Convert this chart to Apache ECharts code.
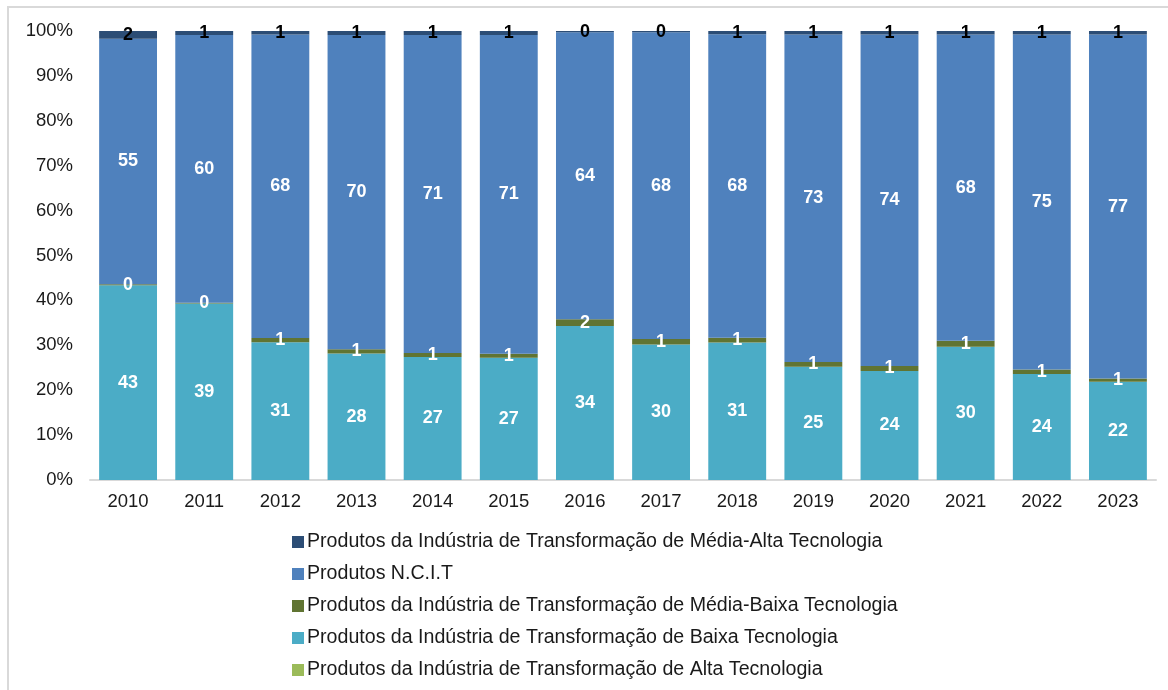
<!DOCTYPE html>
<html lang="pt">
<head>
    <meta charset="UTF-8">
    <script src="https://cdn.jsdelivr.net/npm/echarts@6/dist/echarts.min.js"></script>
    <title>Exportações por intensidade tecnológica</title>
    <style>
        html, body { margin: 0; padding: 0; background: #fff; }
        #frame {
            position: absolute;
            left: 7px;
            top: 6px;
            width: 1170px;
            height: 700px;
            border: 2px solid #d9d9d9;
            box-sizing: border-box;
        }
        #myEchart {
            position: absolute;
            left: 0;
            top: 0;
            width: 1168px;
            height: 690px;
        }
    </style>
</head>
<body>
    <div id="frame"></div>
    <div id="myEchart"></div>
    <script>
        // anos
        var years = ['2010', '2011', '2012', '2013', '2014', '2015', '2016', '2017', '2018', '2019', '2020', '2021', '2022', '2023'];
        // percentuais
        var baixa = [43.4, 39.3, 30.7, 28.2, 27.4, 27.2, 34.3, 30.2, 30.6, 25.2, 24.3, 29.7, 23.6, 21.9];
        var alta = [0, 0, 0, 0, 0, 0, 0, 0, 0, 0, 0, 0, 0, 0];
        var mediaBaixa = [0.2, 0.2, 0.9, 0.9, 0.9, 0.9, 1.5, 1.2, 1.1, 1.1, 1.1, 1.3, 1.0, 0.7];
        var ncit = [54.7, 59.6, 67.6, 70.0, 70.8, 71.0, 63.9, 68.3, 67.6, 72.9, 73.8, 68.2, 74.6, 76.6];
        var mediaAlta = [1.7, 0.9, 0.8, 0.9, 0.9, 0.9, 0.3, 0.3, 0.7, 0.8, 0.8, 0.8, 0.8, 0.8];
        var yTicks = ['0%', '10%', '20%', '30%', '40%', '50%', '60%', '70%', '80%', '90%', '100%'];

        var names = {
            ma: 'Produtos da Indústria de Transformação de Média-Alta Tecnologia',
            ncit: 'Produtos N.C.I.T',
            mb: 'Produtos da Indústria de Transformação de Média-Baixa Tecnologia',
            b: 'Produtos da Indústria de Transformação de Baixa Tecnologia',
            a: 'Produtos da Indústria de Transformação de Alta Tecnologia'
        };

        function lbl(color) {
            return {
                show: true,
                position: 'inside',
                color: color,
                fontFamily: 'Liberation Sans, Arial',
                fontWeight: 'bold',
                fontSize: 18,
                formatter: function (p) { return Math.round(p.value); }
            };
        }

        var myChart = echarts.init(document.getElementById('myEchart'));
        var option = {
            animation: false,
            textStyle: { fontFamily: 'Liberation Sans, Arial' },
            grid: { left: 90, right: 12, top: 31, bottom: 210 },
            legend: {
                orient: 'vertical',
                left: 287,
                top: 527,
                itemGap: 12,
                itemWidth: 12,
                itemHeight: 12,
                icon: 'rect',
                textStyle: { fontSize: 19.6, color: '#1a1a1a', padding: [0, 0, 0, -2] },
                data: [names.ma, names.ncit, names.mb, names.b, names.a]
            },
            xAxis: {
                type: 'category',
                data: years,
                axisLine: { lineStyle: { color: '#d9d9d9', width: 2 } },
                axisTick: { show: false },
                axisLabel: { fontSize: 18.5, color: '#1a1a1a', margin: 12 }
            },
            yAxis: {
                type: 'value',
                min: 0,
                max: 100,
                interval: 10,
                splitLine: { show: false },
                axisLine: { show: false },
                axisLabel: {
                    fontSize: 18.5,
                    color: '#1a1a1a',
                    margin: 17,
                    formatter: function (v) { return yTicks[Math.round(v / 10)]; }
                }
            },
            series: [
                {
                    name: names.b, type: 'bar', stack: 'total', data: baixa,
                    barWidth: '76%',
                    itemStyle: { color: '#4BACC6' },
                    label: lbl('#ffffff')
                },
                {
                    name: names.a, type: 'bar', stack: 'total', data: alta,
                    itemStyle: { color: '#9BBB59' },
                    label: { show: false }
                },
                {
                    name: names.mb, type: 'bar', stack: 'total', data: mediaBaixa,
                    itemStyle: { color: '#607432' },
                    label: lbl('#ffffff')
                },
                {
                    name: names.ncit, type: 'bar', stack: 'total', data: ncit,
                    itemStyle: { color: '#4F81BD' },
                    label: lbl('#ffffff')
                },
                {
                    name: names.ma, type: 'bar', stack: 'total', data: mediaAlta,
                    itemStyle: { color: '#2C4D75' },
                    label: lbl('#000000')
                }
            ]
        };
        myChart.setOption(option);
    </script>
</body>
</html>
